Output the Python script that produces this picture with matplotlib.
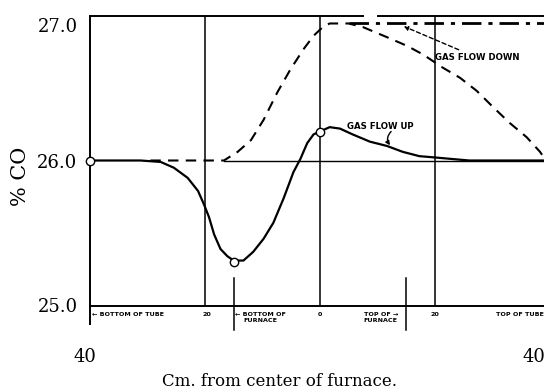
import matplotlib
matplotlib.use("Agg")
import matplotlib.pyplot as plt
from matplotlib.transforms import ScaledTranslation, blended_transform_factory

# CO content along the tube, measured in cm from the furnace centre
flow_up_x = [-40, -35, -31.2, -27.7, -25.4, -23.0, -21.2, -20.2, -19.3, -18.4, -17.3,
             -16.1, -15.0, -13.3, -11.6, -9.8, -8.1, -6.3, -4.6, -3.4, -2.2, -1.1,
             0.0, 1.7, 3.5, 5.7, 8.7, 11.7, 14.4, 17.3, 20.3, 23.1, 26.0, 32.0, 39.0]
flow_up_y = [26.0, 26.0, 26.0, 25.99, 25.95, 25.88, 25.79, 25.70, 25.61, 25.49, 25.39,
             25.34, 25.31, 25.31, 25.37, 25.46, 25.57, 25.74, 25.92, 26.01, 26.12, 26.18,
             26.2, 26.23, 26.22, 26.18, 26.13, 26.10, 26.06, 26.03, 26.02, 26.01, 26.0, 26.0, 26.0]

flow_down_x = [-29.5, -22.0, -16.7, -14.3, -12.0, -9.8, -7.4, -5.1, -2.8, -1.1, 0.5,
               1.7, 5.0, 7.5, 11.7, 15.2, 18.0, 21.4, 24.4, 27.3, 30.1, 33.0, 36.0, 38.3, 39.0]
flow_down_y = [26.0, 26.0, 26.0, 26.06, 26.14, 26.28, 26.47, 26.63, 26.77, 26.86, 26.92,
               26.945, 26.945, 26.92, 26.85, 26.79, 26.73, 26.64, 26.57, 26.48, 26.37,
               26.26, 26.16, 26.06, 26.02]

# measured points marked with open circles
marked_x = [-40, -15, 0]
marked_y = [26.0, 25.3, 26.2]

# upper limit line reached with gas flowing down
limit_x = [5.0, 39.0]
limit_y = [26.945, 26.945]

y_ticks = [25.0, 26.0, 27.0]
y_tick_labels = ["25.0", "26.0", "27.0"]
grid_x = [-20, 0, 20]
furnace_ends = [-15, 15]
axis_marks = [(-39.7, "← BOTTOM OF TUBE", "left"), (-19.7, "20", "center"),
              (-10.4, "← BOTTOM OF\nFURNACE", "center"), (0, "0", "center"),
              (10.6, "TOP OF →\nFURNACE", "center"), (20, "20", "center"),
              (30.6, "TOP OF TUBE", "left")]

serif = "DejaVu Serif"
fig = plt.figure(figsize=(5.44, 3.92), dpi=100)
ax = fig.add_axes([90 / 544, 1 - 305.5 / 392, (544 - 90) / 544, 290 / 392])
ax.set_xlim(-40, 39.0)
ax.set_ylim(25, 27)

for side in ("top", "right"):
    ax.spines[side].set_visible(False)
for side in ("left", "bottom"):
    ax.spines[side].set_linewidth(1.4)

ax.set_xticks([])
ax.set_yticks(y_ticks)
ax.set_yticklabels(y_tick_labels, fontfamily=serif, fontsize=13)
ax.tick_params(axis="y", length=0, pad=9)
for lab in ax.get_yticklabels():
    if lab.get_text() == "27.0":
        lab.set_transform(lab.get_transform() + ScaledTranslation(0, -0.09, fig.dpi_scale_trans))

# frame pieces and reference lines
ax.plot([-40, 7.5], [27, 27], color="black", lw=1.4, clip_on=False)
ax.plot([10.2, 39.0], [27, 27], color="black", lw=1.4, clip_on=False)
ax.plot([-40, -40], [25, 24.875], color="black", lw=1.4, clip_on=False)
for gx in grid_x:
    ax.plot([gx, gx], [25, 27], color="black", lw=1.1)
for fx in furnace_ends:
    ax.plot([fx, fx], [25.19, 24.83], color="black", lw=1.1, clip_on=False)
ax.plot([-16.7, 39.0], [26.0, 26.0], color="black", lw=1.0)

# curves
ax.plot(flow_down_x, flow_down_y, color="black", lw=1.5, linestyle=(0, (5, 3.5)))
ax.plot(limit_x, limit_y, color="black", lw=2.0, linestyle=(0, (7, 2.5, 1.5, 2.5)))
ax.plot(flow_up_x, flow_up_y, color="black", lw=1.6)
ax.plot(marked_x, marked_y, linestyle="none", marker="o", markersize=6,
        markerfacecolor="white", markeredgecolor="black", markeredgewidth=1.0,
        clip_on=False, zorder=5)

# curve labels
label_kw = dict(fontfamily="DejaVu Sans", fontweight="bold", fontsize=6.2, color="black")
ax.annotate("GAS FLOW DOWN", xy=(14.6, 26.925), xytext=(20.0, 26.71),
            va="center", ha="left", **label_kw,
            arrowprops=dict(arrowstyle="-|>", color="black", lw=1.0, linestyle=(0, (3, 2)),
                            mutation_scale=6, shrinkA=1, shrinkB=0))
ax.text(4.7, 26.235, "GAS FLOW UP", va="center", ha="left", **label_kw)
ax.annotate("", xy=(12.2, 26.105), xytext=(12.4, 26.2),
            arrowprops=dict(arrowstyle="-|>", color="black", lw=1.0, mutation_scale=6,
                            connectionstyle="arc3,rad=0.4", shrinkA=0, shrinkB=0))

# captions under the axis
for mx, txt, ha in axis_marks:
    ax.text(mx, 24.955, txt, ha=ha, va="top", multialignment="center",
            fontfamily="DejaVu Sans", fontweight="bold", fontsize=4.6,
            linespacing=1.3, clip_on=False)

low = blended_transform_factory(ax.transData, fig.transFigure)
ax.text(-40.9, 1 - 357 / 392, "40", transform=low, ha="center", va="center",
        fontfamily=serif, fontsize=13)
ax.text(37.2, 1 - 357 / 392, "40", transform=low, ha="center", va="center",
        fontfamily=serif, fontsize=13)

fig.text(280 / 544, 1 - 382 / 392, "Cm. from center of furnace.", ha="center", va="center",
         fontfamily=serif, fontsize=12)
fig.text(21 / 544, 1 - 176 / 392, "% CO", rotation=90, ha="center", va="center",
         fontfamily=serif, fontsize=15)

fig.savefig("out.png", dpi=100)
